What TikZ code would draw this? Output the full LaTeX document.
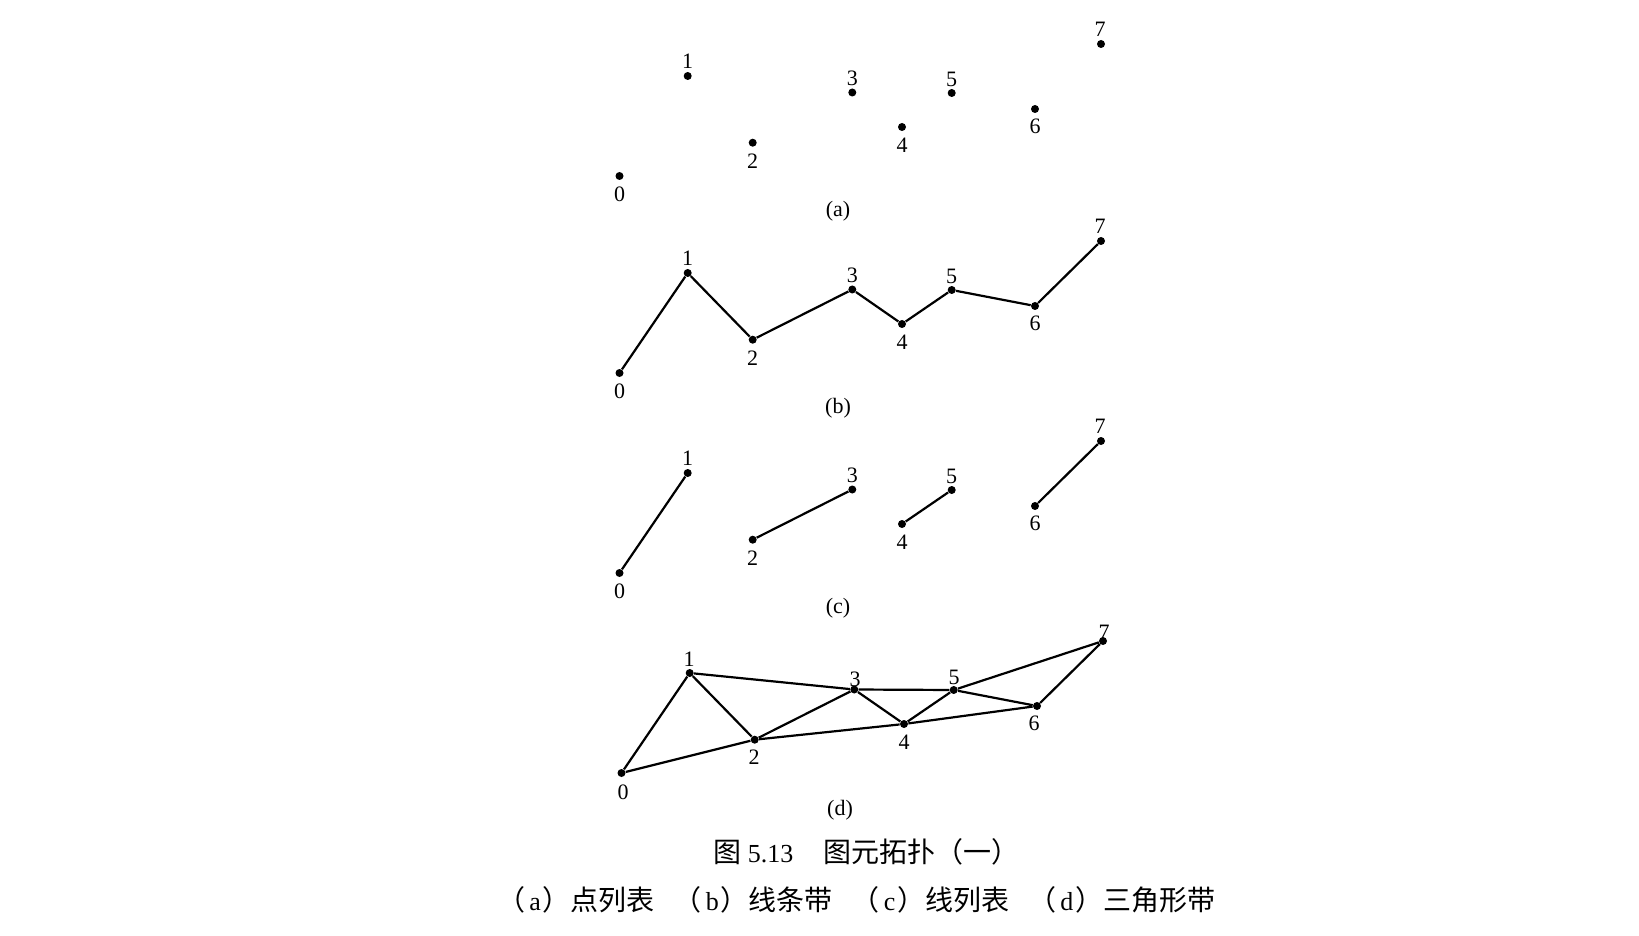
\documentclass[tikz,border=0pt]{standalone}
\usepackage{fontspec}
\setmainfont{Liberation Serif}
\newfontfamily\cjk{Noto Sans CJK SC}
\begin{document}
\begin{tikzpicture}[x=0.5pt,y=-0.5pt,
  dot/.style={circle,fill=black,inner sep=0pt,minimum size=4pt},
  num/.style={inner sep=0pt,font=\fontsize{11}{13}\selectfont},
  edge/.style={line width=1.1pt,line join=round},
  captxt/.style={inner sep=0pt,anchor=west,font=\fontsize{14}{16}\selectfont}]
\useasboundingbox (0,0) rectangle (1639,936);
% points of all four panels
\foreach \p/\dx/\dy in {a/0/0,b/0/197,c/0/397,d/2/597}{
  \foreach \i/\x/\y in {0/619.5/176,1/687.7/76,2/752.7/142.7,3/852.3/92.5,4/902/127,5/951.7/93,6/1035/109,7/1101/44}{
    \node[dot] (\p\i) at (\x+\dx,\y+\dy) {};
  }
}
% point numbers, panels a-c
\foreach \p/\dy in {a/0,b/197,c/397}{
  \foreach \i/\x/\y in {0/619.5/194,1/687.7/61,2/752.7/161.5,3/852.3/78,4/902/145,5/951.7/79,6/1035/126,7/1100/29}{
    \node[num] (\p l\i) at (\x,\y+\dy) {\i};
  }
}
% point numbers, panel d
\node[num] (dl0) at (623,792) {0};
\node[num] (dl1) at (689,659) {1};
\node[num] (dl2) at (754,757) {2};
\node[num] (dl3) at (855,679) {3};
\node[num] (dl4) at (904,742) {4};
\node[num] (dl5) at (954,677) {5};
\node[num] (dl6) at (1034,723) {6};
\node[num] (dl7) at (1104,632) {7};
% panel captions
\node[num] (capa) at (838,211) {(a)};
\node[num] (capb) at (838,408) {(b)};
\node[num] (capc) at (838,608) {(c)};
\node[num] (capd) at (840,810) {(d)};
% (b) line strip
\draw[edge] (b0) -- (b1) -- (b2) -- (b3) -- (b4) -- (b5) -- (b6) -- (b7);
% (c) line list
\draw[edge] (c0) -- (c1);
\draw[edge] (c2) -- (c3);
\draw[edge] (c4) -- (c5);
\draw[edge] (c6) -- (c7);
% (d) triangle strip
\draw[edge] (d0) -- (d1) -- (d2) -- (d0);
\draw[edge] (d1) -- (d3) -- (d2);
\draw[edge] (d2) -- (d4) -- (d3);
\draw[edge] (d3) -- (d5) -- (d4);
\draw[edge] (d4) -- (d6) -- (d5);
\draw[edge] (d5) -- (d7) -- (d6);
% figure caption
\node[captxt,font=\fontsize{13}{15}\selectfont] (title) at (713,852) {{\fontsize{14}{16}\selectfont\cjk 图} 5.13\hspace{15pt}{\fontsize{14}{16}\selectfont\cjk 图元拓扑（一）}};
\node[captxt] (sub) at (497,900) {{\cjk （}\hspace{2pt}{\fontsize{13}{15}\selectfont a}\hspace{1pt}{\cjk ）点列表}\hspace{9.5pt}{\cjk （}\hspace{2pt}{\fontsize{13}{15}\selectfont b}\hspace{1pt}{\cjk ）线条带}\hspace{9.5pt}{\cjk （}\hspace{2pt}{\fontsize{13}{15}\selectfont c}\hspace{1pt}{\cjk ）线列表}\hspace{9.5pt}{\cjk （}\hspace{2pt}{\fontsize{13}{15}\selectfont d}\hspace{1pt}{\cjk ）三角形带}};
\end{tikzpicture}
\end{document}
